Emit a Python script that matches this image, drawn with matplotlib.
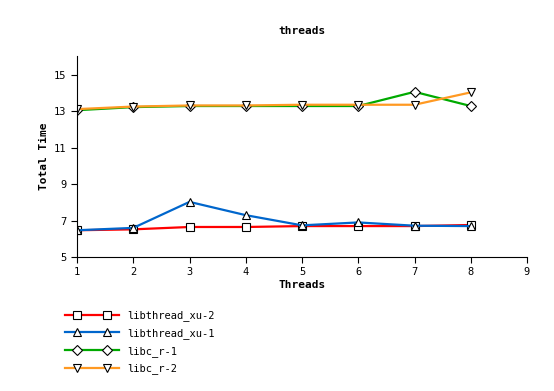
import matplotlib
matplotlib.use('Agg')
import matplotlib.pyplot as plt
import numpy as np
from matplotlib.legend_handler import HandlerLine2D
from matplotlib.lines import Line2D

plt.rcParams['font.family'] = 'DejaVu Sans Mono'

threads = [1, 2, 3, 4, 5, 6, 7, 8]
xu2 = [6.47, 6.52, 6.65, 6.65, 6.70, 6.70, 6.70, 6.76]
xu1 = [6.47, 6.60, 8.03, 7.30, 6.74, 6.90, 6.72, 6.70]
cr1 = [13.07, 13.24, 13.30, 13.30, 13.30, 13.30, 14.08, 13.30]
cr2 = [13.13, 13.27, 13.33, 13.33, 13.37, 13.37, 13.37, 14.05]

series = [
    ('libthread_xu-2', xu2, '#ff0000', 's'),
    ('libthread_xu-1', xu1, '#0066cc', '^'),
    ('libc_r-1', cr1, '#00aa00', 'D'),
    ('libc_r-2', cr2, '#ff9922', 'v'),
]


# legend line spans the whole handle, markers sit a bit inside
class PadLine(HandlerLine2D):
    def create_artists(self, legend, orig_handle, xdescent, ydescent,
                       width, height, fontsize, trans):
        y = height / 2 - ydescent
        line = Line2D([-xdescent, -xdescent + width], [y, y])
        self.update_prop(line, orig_handle, legend)
        line.set_marker('None')
        pad = 1.15 * fontsize
        xm = np.linspace(-xdescent + pad, -xdescent + width - pad, 2)
        mk = Line2D(xm, [y, y])
        self.update_prop(mk, orig_handle, legend)
        mk.set_linestyle('None')
        line.set_transform(trans)
        mk.set_transform(trans)
        return [line, mk]


fig = plt.figure(figsize=(5.54, 3.91), dpi=100)
ax = fig.add_axes([77/554, 1-257/391, 450/554, 201/391])

for name, vals, col, mk in series:
    ms = 5 if mk == 'D' else 6
    ax.plot(threads, vals, color=col, lw=1.6, marker=mk, ms=ms,
            mfc='white', mec='black', mew=0.8, label=name)

ax.set_xlim(1, 9)
ax.set_ylim(5, 16.05)
ax.set_xticks(range(1, 10))
ax.set_yticks([5, 7, 9, 11, 13, 15])
ax.spines['top'].set_visible(False)
ax.spines['right'].set_visible(False)
ax.tick_params(labelsize=7.5, direction='out', length=4)
ax.set_title('threads', fontsize=8, fontweight='bold', pad=16)
ax.set_xlabel('Threads', fontsize=8, fontweight='bold', labelpad=2)
ax.set_ylabel('Total Time', fontsize=8, fontweight='bold')

fig.legend(loc='upper left', bbox_to_anchor=(56/554, 1-301/391), frameon=False,
           numpoints=2, fontsize=7.5, handlelength=5.1, handletextpad=0.8,
           labelspacing=0.65, handler_map={Line2D: PadLine()})

plt.savefig('out.png', dpi=100)
